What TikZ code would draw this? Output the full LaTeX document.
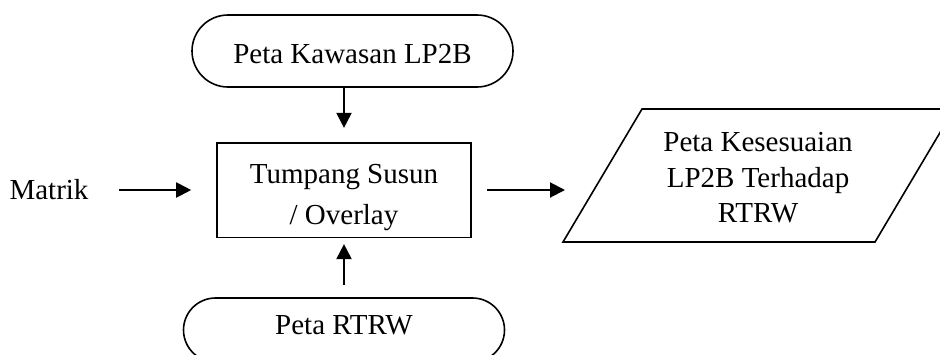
\documentclass[tikz,border=0pt]{standalone}
\usepackage{fontspec}
\setmainfont{Liberation Serif}
\usetikzlibrary{shapes.misc,arrows.meta}

\tikzset{
  terminal/.style={draw, rounded rectangle, line width=0.8pt, minimum width=160.5pt, minimum height=36pt, inner sep=0pt},
  proc/.style={draw, line width=0.8pt, minimum width=127pt, minimum height=47pt, align=center, font=\fontsize{14.5}{20.5}\selectfont},
  panah/.style={-{Triangle[length=7.5pt,width=7.5pt]}, line width=1pt},
}

\begin{document}
\begin{tikzpicture}[x=0.5pt,y=-0.5pt,font=\fontsize{14.5}{16}\selectfont]
    \useasboundingbox (0,0) rectangle (940,354);
    \node[terminal, text height=12pt, text depth=0pt] (lp2b) at (352.5,51) {Peta Kawasan LP2B};
    \node[proc] (proses) at (344,190) {\rule{0pt}{17pt}Tumpang Susun\\/ Overlay};
    \node[terminal, minimum height=32pt, text height=10.6pt, text depth=6.6pt] (rtrw) at (344,330) {Peta RTRW};
    \node (matrik) at (49,190) {Matrik};
    % output
    \draw[line width=0.8pt] (563,242) -- (642,109) -- (954,109) -- (875,242) -- cycle;
    \node[align=center, font=\fontsize{14.5}{17.75}\selectfont] (hasil) at (758,178) {Peta Kesesuaian\\LP2B Terhadap\\RTRW};
    \coordinate (masuk) at (565,190);
    % panah
    \draw[panah, shorten >=7pt] (lp2b.south -| proses.north) -- (proses.north);
    \draw[panah, shorten <=6pt, shorten >=3pt] (rtrw.north -| proses.south) -- (proses.south);
    \draw[panah, shorten <=11.5pt, shorten >=12.5pt] (matrik) -- (proses);
    \draw[panah, shorten <=7.5pt] (proses.east) -- (masuk);
\end{tikzpicture}
\end{document}
